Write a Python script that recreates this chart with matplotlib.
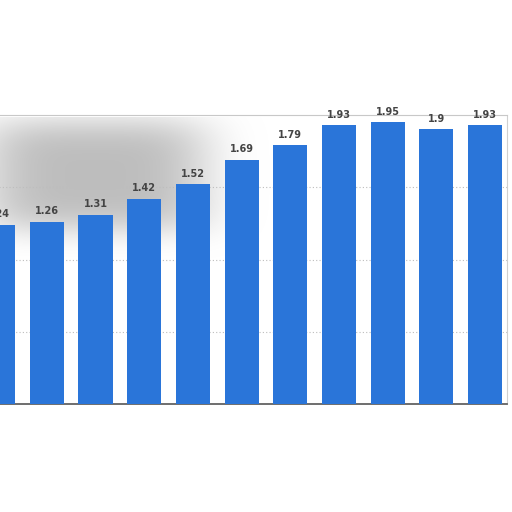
import matplotlib.pyplot as plt
import numpy as np

# values (first bar is cut at the left edge)
values = [1.24, 1.26, 1.31, 1.42, 1.52, 1.69, 1.79, 1.93, 1.95, 1.9, 1.93]
labels = ["1.24", "1.26", "1.31", "1.42", "1.52", "1.69", "1.79", "1.93", "1.95", "1.9", "1.93"]
bar_color = "#2a75d9"

fig = plt.figure(figsize=(5.12, 5.12), dpi=100)
fig.patch.set_facecolor("white")

# soft grey smudge behind the top-left part, as in the reference
bg = fig.add_axes([0, 0, 1, 1], zorder=0)
bg.set_axis_off()
gx, gy = np.meshgrid(np.linspace(0, 512, 512), np.linspace(0, 512, 512))
blob = np.exp(-((gx - 95) / 115) ** 4 - ((gy - 175) / 58) ** 4)
blob[gy < 117] = 0
rgba = np.zeros((512, 512, 4))
rgba[..., :3] = 0.68
rgba[..., 3] = 0.8 * blob
bg.imshow(rgba, extent=(0, 512, 512, 0), interpolation="bilinear")
bg.set_xlim(0, 512)
bg.set_ylim(512, 0)

# axes reaches past the left border on purpose: the picture is a crop
ax = fig.add_axes([-0.0512, 0.2109, 1.0414, 0.5645], zorder=1)
ax.patch.set_alpha(0)
x = np.arange(len(values))
ax.bar(x, values, width=0.7, color=bar_color, zorder=3)

for xi, v, lab in zip(x, values, labels):
    ax.annotate(lab, (xi, v), xytext=(0, 4), textcoords="offset points",
                ha="center", va="bottom", fontsize=7, fontweight="bold",
                color="#444444", zorder=4)

ax.set_xlim(-0.5, 10.45)
ax.set_ylim(0, 2.0)
ax.set_yticks([0.5, 1.0, 1.5])
ax.grid(axis="y", linestyle=(0, (1, 2)), color="#bdbdbd", linewidth=0.8, zorder=0)
ax.tick_params(left=False, bottom=False, labelleft=False, labelbottom=False)
ax.spines["left"].set_visible(False)
ax.spines["bottom"].set_color("#555555")
ax.spines["bottom"].set_linewidth(1.2)
ax.spines["top"].set_color("#c8c8c8")
ax.spines["right"].set_color("#d0d0d0")

fig.savefig("out.png", dpi=100)
